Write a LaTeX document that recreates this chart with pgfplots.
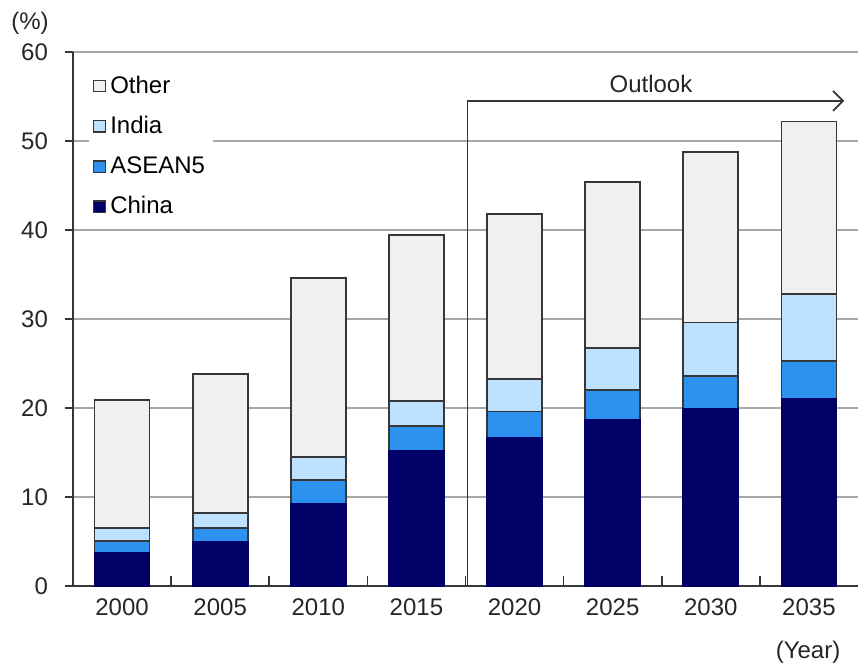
\documentclass[border=0pt]{standalone}
\usepackage{pgfplots}
\pgfplotsset{compat=1.18}
\usepackage{fontspec}
\setmainfont{Liberation Sans}
\usetikzlibrary{arrows.meta}
\definecolor{cChina}{RGB}{0,0,102}
\definecolor{cAsean}{RGB}{45,145,240}
\definecolor{cIndia}{RGB}{190,225,255}
\definecolor{cOther}{RGB}{240,240,240}
\definecolor{cEdge}{RGB}{55,55,55}
\begin{document}
\begin{tikzpicture}
\begin{axis}[
  name=ax,
  scale only axis,
  width=392.5pt, height=267pt,
  xmin=-0.5, xmax=7.5,
  ymin=0, ymax=60,
  ytick={0,10,...,60},
  xtick={0,...,7},
  xticklabels={2000,2005,2010,2015,2020,2025,2030,2035},
  minor xtick={0.5,1.5,...,6.5},
  axis x line*=bottom,
  axis y line*=left,
  major x tick style={draw=none},
  minor x tick style={draw=cEdge, line width=0.8pt},
  minor tick length=5pt,
  xtick align=inside,
  ytick align=outside,
  major tick length=4pt,
  y tick style={draw=cEdge, line width=0.8pt},
  axis line style={draw=cEdge, line width=0.9pt, -},
  ymajorgrids,
  grid style={draw=black!35, line width=0.8pt},
  ybar stacked,
  bar width=27.5pt,
  tick label style={font=\fontsize{12}{14}\selectfont, text=black!85},
  /pgf/number format/assume math mode=true,
  xticklabel style={yshift=-3pt},
  yticklabel style={xshift=-5pt},
  clip=false,
  legend style={at={(0.02,0.971)}, anchor=north west, draw=none, fill=white,
    font=\fontsize{12}{14}\selectfont, row sep=6pt, inner sep=2pt,
    cells={anchor=west}},
  legend image code/.code={\draw[#1, draw=cEdge, line width=0.6pt] (0pt,-2.8pt) rectangle (6pt,2.8pt);},
  reverse legend,
]
\addplot+[fill=cChina, draw=cChina, line width=0.9pt] coordinates {(0,3.7) (1,4.9) (2,9.2) (3,15.2) (4,16.6) (5,18.7) (6,19.9) (7,21.0)};
\addplot+[fill=cAsean, draw=cEdge, line width=0.9pt] coordinates {(0,1.4) (1,1.6) (2,2.7) (3,2.8) (4,3.0) (5,3.3) (6,3.7) (7,4.3)};
\addplot+[fill=cIndia, draw=cEdge, line width=0.9pt] coordinates {(0,1.4) (1,1.7) (2,2.6) (3,2.8) (4,3.7) (5,4.7) (6,6.0) (7,7.5)};
\addplot+[fill=cOther, draw=cEdge, line width=0.9pt] coordinates {(0,14.4) (1,15.6) (2,20.1) (3,18.6) (4,18.5) (5,18.7) (6,19.2) (7,19.4)};
\legend{China,ASEAN5,India,Other}
\draw[cEdge, line width=0.9pt, -{Straight Barb[length=5pt,width=10pt]}] (axis cs:3.52,0) -- (axis cs:3.52,54.5) -- (axis cs:7.36,54.5);
\node[font=\fontsize{12}{14}\selectfont, text=black!85] at (axis cs:5.39,56.4) {Outlook};
\end{axis}
\node[font=\fontsize{12}{14}\selectfont, text=black!85, anchor=center] at ([shift={(-21.5pt,14.5pt)}]ax.north west) {(\%)};
\node[font=\fontsize{12}{14}\selectfont, text=black!85, anchor=center] at ([shift={(-25pt,-33pt)}]ax.south east) {(Year)};
\pgfresetboundingbox
\path[use as bounding box] ([shift={(-36.5pt,-40pt)}]ax.south west) rectangle ([shift={(0.5pt,26pt)}]ax.north east);
\end{tikzpicture}
\end{document}
